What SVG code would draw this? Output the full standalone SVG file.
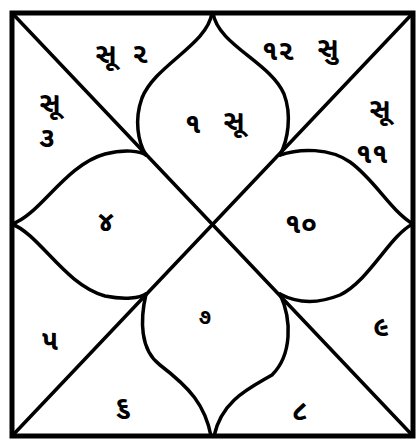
<svg xmlns="http://www.w3.org/2000/svg" width="418" height="439" viewBox="0 0 418 439">
<style>
.ln{fill:none;stroke:#000;stroke-width:3.5;stroke-linecap:round;stroke-linejoin:round}
.bd{fill:none;stroke:#000;stroke-width:5}
text{font-family:"Noto Sans Gujarati","Noto Sans","DejaVu Sans",sans-serif;font-size:28px;fill:#000;font-weight:bold;text-anchor:middle}
.sm{font-size:22px}
</style>
<rect width="418" height="439" fill="#fff"/>
<g id="frame">
<rect class="bd" x="12" y="13" width="401" height="423"/>
<line class="ln" x1="12" y1="13" x2="413" y2="436"/>
<line class="ln" x1="413" y1="13" x2="12" y2="436"/>
</g>
<g id="petals">
<path class="ln" d="M212,13 C207,45 155,65 142,98 C134,120 138,142 146,155"/>
<path class="ln" d="M213,13 C218,45 270,62 284,94 C292,115 288,140 280,155"/>
<path class="ln" d="M12,224 C40,215 65,165 105,154 C125,149 140,151 146,155"/>
<path class="ln" d="M12,224 C40,235 65,285 105,296 C125,300 140,298 146,294"/>
<path class="ln" d="M280,155 C300,148 330,148 350,162 C375,180 390,210 413,224"/>
<path class="ln" d="M413,224 C390,235 370,280 340,295 C315,305 295,302 280,294"/>
<path class="ln" d="M146,294 C140,320 140,350 160,365 C190,388 205,405 211,436"/>
<path class="ln" d="M280,294 C292,320 292,355 272,375 C250,388 222,400 214,436"/>
</g>
<g id="house1"><text x="193" y="133">૧</text><text x="234" y="130">સૂ</text></g>
<g id="house2"><text x="106" y="63">સૂ</text><text x="140" y="63">૨</text></g>
<g id="house3"><text x="50" y="112">સૂ</text><text x="47" y="147">૩</text></g>
<g id="house4"><text x="106" y="231">૪</text></g>
<g id="house5"><text x="50" y="350">૫</text></g>
<g id="house6"><text x="123" y="416">૬</text></g>
<g id="house7"><text class="sm" x="205" y="324">૭</text></g>
<g id="house8"><text x="300" y="420">૮</text></g>
<g id="house9"><text x="381" y="336">૯</text></g>
<g id="house10"><text x="301" y="233">૧૦</text></g>
<g id="house11"><text x="380" y="118">સૂ</text><text x="372" y="163">૧૧</text></g>
<g id="house12"><text x="278" y="60">૧૨</text><text x="328" y="57">સુ</text></g>
</svg>
